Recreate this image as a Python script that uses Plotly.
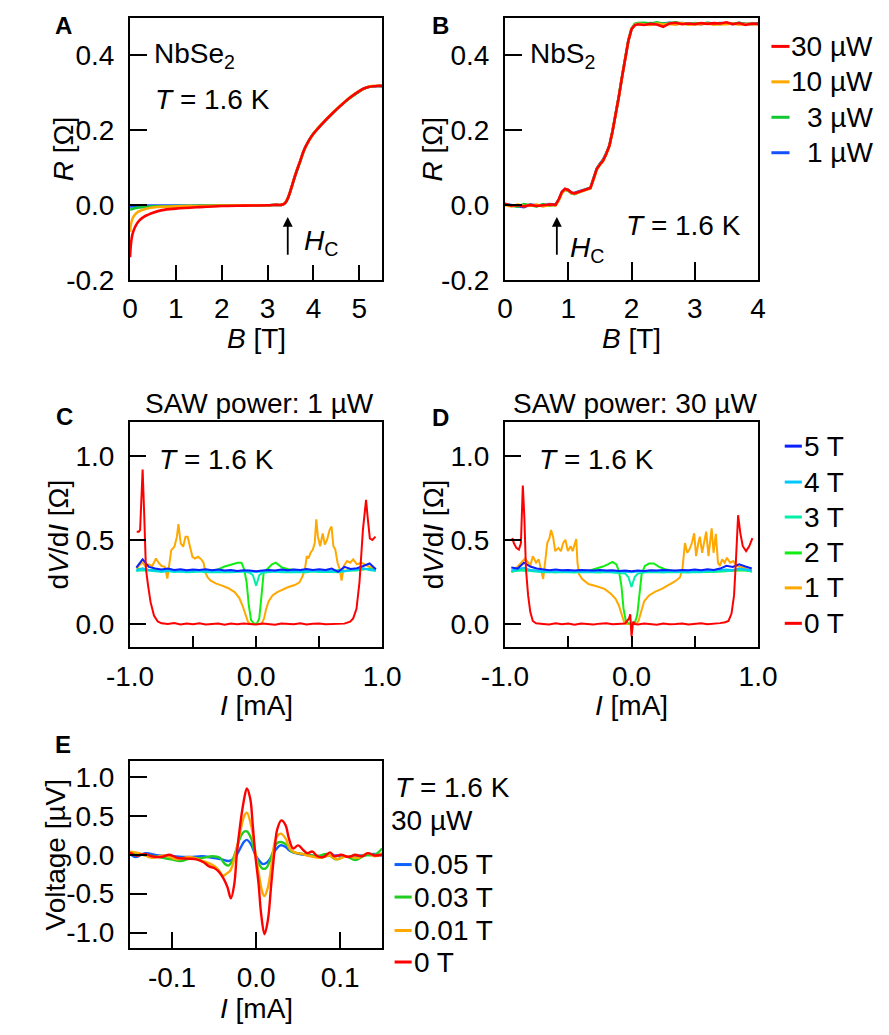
import plotly.graph_objects as go

W, H = 889, 1035
FONT = "Liberation Sans, Arial, Helvetica, sans-serif"
FS = 28

RED = "#FF0000"
ORANGE = "#FFA800"
GREEN_P = "#11C832"
BLUE_P = "#1450FF"
C5T = "#0A20FF"
C4T = "#00C8FF"
C3T = "#00F0A8"
C2T = "#11EE11"
E_BLUE = "#1060FF"
E_GREEN = "#22CC22"

# ---------------- Panel A: NbSe2, R vs B ----------------
A_labels = ["30 µW", "10 µW", "3 µW", "1 µW"]
A_B = [0, 0.02, 0.05, 0.1, 0.15, 0.2, 0.3, 0.4, 0.5, 0.7, 1.0, 1.5, 2.0, 2.5, 3.0, 3.2, 3.3, 3.35, 3.4,
       3.45, 3.5, 3.55, 3.6, 3.7, 3.8, 3.9, 4.0, 4.2, 4.4, 4.6, 4.8, 5.0, 5.1, 5.2, 5.3, 5.4, 5.5]
A_R_30uW = [-0.14, -0.105, -0.08, -0.062, -0.05, -0.042, -0.032, -0.026, -0.021, -0.014, -0.01, -0.006, -0.003,
            -0.002, -0.001, 0.0, 0.0, 0.002, 0.008, 0.02, 0.038, 0.058, 0.078, 0.113, 0.148, 0.172, 0.19, 0.218,
            0.243, 0.266, 0.287, 0.304, 0.311, 0.315, 0.317, 0.318, 0.318]
A_R_10uW = [-0.072, -0.052, -0.038, -0.027, -0.021, -0.017, -0.012, -0.009, -0.007, -0.005, -0.004, -0.003, -0.002,
            -0.001, -0.001, 0.0, 0.0, 0.002, 0.009, 0.021, 0.039, 0.059, 0.079, 0.114, 0.147, 0.171, 0.19, 0.219,
            0.244, 0.267, 0.288, 0.305, 0.311, 0.316, 0.318, 0.319, 0.318]
A_R_3uW = [-0.013, -0.012, -0.011, -0.009, -0.008, -0.007, -0.006, -0.005, -0.004, -0.004, -0.003, -0.002, -0.002,
           -0.001, -0.001, 0.0, 0.0, 0.002, 0.008, 0.02, 0.037, 0.057, 0.077, 0.112, 0.147, 0.172, 0.191, 0.218,
           0.243, 0.266, 0.286, 0.303, 0.31, 0.315, 0.317, 0.318, 0.317]
A_R_1uW = [-0.004, -0.004, -0.004, -0.003, -0.003, -0.003, -0.003, -0.002, -0.002, -0.002, -0.002, -0.002, -0.001,
           -0.001, -0.001, 0.0, 0.0, 0.002, 0.008, 0.02, 0.038, 0.058, 0.078, 0.113, 0.148, 0.172, 0.19, 0.218,
           0.243, 0.266, 0.287, 0.304, 0.311, 0.315, 0.317, 0.318, 0.318]

# ---------------- Panel B: NbS2, R vs B ----------------
B_B = [0.0, 0.1, 0.2, 0.3, 0.4, 0.5, 0.6, 0.7, 0.8,
       0.85, 0.9, 0.95, 1.0, 1.05, 1.1, 1.15, 1.2, 1.25, 1.3, 1.35, 1.4, 1.45, 1.5, 1.55, 1.6, 1.65, 1.7, 1.75,
       1.8, 1.85, 1.9, 1.95, 2.0, 2.05, 2.1,
       2.2, 2.3, 2.4, 2.5, 2.6, 2.7, 2.8, 2.9, 3.0, 3.1, 3.2, 3.3, 3.4, 3.5, 3.6, 3.7, 3.8, 3.9, 4.0]
B_R_30uW = [0.003, -0.002, -0.001, -0.004, 0.0, -0.003, -0.001, 0.001, 0.0,
            0.015, 0.035, 0.043, 0.04, 0.033, 0.031, 0.034, 0.038, 0.041, 0.042, 0.045, 0.07, 0.096, 0.108, 0.118,
            0.136, 0.158, 0.197, 0.241, 0.29, 0.342, 0.395, 0.439, 0.47, 0.48, 0.483,
            0.481, 0.484, 0.482, 0.476, 0.485, 0.487, 0.483, 0.485, 0.483, 0.486, 0.484, 0.486, 0.485, 0.488, 0.483,
            0.486, 0.481, 0.485, 0.484]
B_R_10uW = [0.0, -0.004, 0.001, -0.003, -0.002, 0.001, -0.004, 0.0, -0.001,
            0.012, 0.032, 0.041, 0.039, 0.032, 0.03, 0.033, 0.037, 0.04, 0.041, 0.044, 0.068, 0.094, 0.107, 0.117,
            0.135, 0.157, 0.196, 0.24, 0.289, 0.341, 0.394, 0.438, 0.47, 0.481, 0.484,
            0.483, 0.481, 0.485, 0.482, 0.484, 0.482, 0.486, 0.482, 0.484, 0.483, 0.485, 0.482, 0.484, 0.483, 0.485,
            0.482, 0.484, 0.483, 0.482]
B_R_3uW = [0.001, -0.003, -0.005, 0.002, -0.002, -0.004, 0.002, -0.002, 0.0,
           0.013, 0.033, 0.04, 0.038, 0.031, 0.029, 0.033, 0.036, 0.04, 0.043, 0.046, 0.069, 0.096, 0.109, 0.119,
           0.137, 0.159, 0.198, 0.242, 0.291, 0.343, 0.396, 0.44, 0.471, 0.484, 0.486,
           0.487, 0.485, 0.488, 0.484, 0.486, 0.488, 0.485, 0.483, 0.486, 0.484, 0.487, 0.485, 0.483, 0.486, 0.484,
           0.487, 0.483, 0.485, 0.484]
B_R_1uW = [0.002, -0.001, -0.003, -0.006, 0.001, -0.001, -0.003, 0.002, 0.001,
           0.014, 0.034, 0.042, 0.04, 0.032, 0.032, 0.035, 0.038, 0.041, 0.042, 0.045, 0.071, 0.097, 0.11, 0.121,
           0.138, 0.158, 0.197, 0.241, 0.29, 0.342, 0.395, 0.439, 0.47, 0.482, 0.485,
           0.484, 0.486, 0.483, 0.485, 0.487, 0.484, 0.486, 0.484, 0.485, 0.483, 0.486, 0.484, 0.486, 0.485, 0.484,
           0.486, 0.485, 0.483, 0.485]

# ---------------- Panels C / D: dV/dI vs I ----------------
CD_labels = ["5 T", "4 T", "3 T", "2 T", "1 T", "0 T"]
GRID_I = [-0.95, -0.90, -0.85, -0.80, -0.75, -0.70, -0.65, -0.60, -0.55, -0.50, -0.45, -0.40, -0.35, -0.30,
          -0.25, -0.20, -0.15, -0.10, -0.05, 0.00, 0.05, 0.10, 0.15, 0.20, 0.25, 0.30, 0.35, 0.40, 0.45, 0.50,
          0.55, 0.60, 0.65, 0.70, 0.75, 0.80, 0.85, 0.90, 0.95]
GRID_I_3T = [-0.95, -0.90, -0.85, -0.80, -0.75, -0.70, -0.65, -0.60, -0.55, -0.50, -0.45, -0.40, -0.35, -0.30,
             -0.25, -0.20, -0.15, -0.10, -0.05, -0.025, 0.0, 0.025, 0.05, 0.10, 0.15, 0.20, 0.25, 0.30, 0.35,
             0.40, 0.45, 0.50, 0.55, 0.60, 0.65, 0.70, 0.75, 0.80, 0.85, 0.90, 0.95]

# C: SAW power 1 uW
C_I_0T = [-0.947, -0.93, -0.92, -0.912, -0.90, -0.887, -0.874, -0.857, -0.837, -0.81, -0.78, -0.75, -0.70, -0.65,
          -0.60, -0.55, -0.50, -0.45, -0.40, -0.35, -0.30, -0.25, -0.20, -0.15, -0.10, -0.05, 0.0, 0.05, 0.10,
          0.15, 0.20, 0.25, 0.30, 0.35, 0.40, 0.45, 0.50, 0.55, 0.60, 0.65, 0.70, 0.746, 0.77, 0.796, 0.82,
          0.847, 0.86, 0.872, 0.884, 0.902, 0.922, 0.947]
C_R_0T = [0.55, 0.55, 0.56, 0.70, 0.92, 0.64, 0.33, 0.23, 0.13, 0.05, 0.015, 0.004, 0.0, 0.005, -0.003, 0.002,
          -0.002, 0.004, -0.003, 0.0, 0.003, -0.004, 0.002, -0.002, 0.003, 0.0, -0.003, 0.002, 0.0, -0.004, 0.003,
          0.0, -0.002, 0.004, -0.003, 0.001, 0.003, -0.002, 0.0, 0.004, 0.002, 0.014, 0.033, 0.09, 0.25, 0.56,
          0.68, 0.74, 0.64, 0.51, 0.50, 0.52]
C_I_1T = [-0.947, -0.92, -0.90, -0.874, -0.85, -0.824, -0.794, -0.774, -0.749, -0.724, -0.704, -0.688, -0.673,
          -0.648, -0.628, -0.616, -0.598, -0.578, -0.56, -0.543, -0.523, -0.505, -0.485, -0.46, -0.435, -0.417,
          -0.402, -0.384, -0.36, -0.32, -0.27, -0.22, -0.17, -0.133, -0.108, -0.083, -0.065, -0.045, 0.0, 0.043,
          0.063, 0.08, 0.10, 0.13, 0.168, 0.206, 0.256, 0.307, 0.344, 0.37, 0.387, 0.402, 0.415, 0.432, 0.45,
          0.465, 0.477, 0.49, 0.508, 0.528, 0.545, 0.563, 0.583, 0.598, 0.613, 0.628, 0.646, 0.663, 0.678, 0.696,
          0.721, 0.746, 0.77, 0.80, 0.834, 0.884, 0.947]
C_R_1T = [0.33, 0.355, 0.365, 0.34, 0.355, 0.345, 0.39, 0.365, 0.345, 0.34, 0.27, 0.365, 0.44, 0.46, 0.52, 0.595,
          0.48, 0.46, 0.52, 0.52, 0.46, 0.40, 0.39, 0.40, 0.385, 0.365, 0.305, 0.277, 0.258, 0.242, 0.228, 0.213,
          0.19, 0.154, 0.11, 0.053, 0.014, 0.0, 0.0, 0.0, 0.033, 0.09, 0.135, 0.17, 0.19, 0.205, 0.22, 0.232,
          0.248, 0.287, 0.326, 0.404, 0.39, 0.424, 0.443, 0.482, 0.623, 0.52, 0.463, 0.54, 0.473, 0.502, 0.56,
          0.58, 0.463, 0.443, 0.365, 0.326, 0.258, 0.346, 0.375, 0.365, 0.385, 0.355, 0.365, 0.346, 0.326]
C_I_2T = [-0.947, -0.90, -0.85, -0.80, -0.75, -0.70, -0.65, -0.60, -0.55, -0.50, -0.45, -0.40, -0.35, -0.30,
          -0.25, -0.196, -0.146, -0.116, -0.095, -0.075, -0.058, -0.04, -0.02, 0.005, 0.025, 0.043, 0.06, 0.093,
          0.126, 0.156, 0.206, 0.256, 0.30, 0.35, 0.40, 0.45, 0.50, 0.55, 0.60, 0.65, 0.70, 0.75, 0.80, 0.85,
          0.90, 0.947]
C_R_2T = [0.325, 0.33, 0.32, 0.325, 0.318, 0.322, 0.316, 0.32, 0.315, 0.318, 0.316, 0.32, 0.318, 0.325, 0.342,
          0.355, 0.365, 0.365, 0.326, 0.248, 0.11, 0.023, 0.004, 0.0, 0.033, 0.17, 0.307, 0.33, 0.355, 0.365,
          0.336, 0.326, 0.322, 0.318, 0.315, 0.32, 0.316, 0.318, 0.314, 0.32, 0.316, 0.322, 0.32, 0.325, 0.33,
          0.322]
C_R_3T = [0.315, 0.32, 0.318, 0.312, 0.31, 0.315, 0.31, 0.312, 0.308, 0.31, 0.312, 0.308, 0.31, 0.312, 0.31,
          0.308, 0.31, 0.312, 0.305, 0.29, 0.228, 0.29, 0.305, 0.31, 0.312, 0.308, 0.31, 0.312, 0.31, 0.308,
          0.312, 0.31, 0.312, 0.31, 0.308, 0.315, 0.318, 0.32, 0.33, 0.322, 0.315]
C_R_4T = [0.32, 0.33, 0.322, 0.318, 0.315, 0.318, 0.314, 0.316, 0.313, 0.315, 0.318, 0.314, 0.316, 0.313, 0.315,
          0.312, 0.314, 0.316, 0.312, 0.31, 0.313, 0.315, 0.312, 0.316, 0.314, 0.313, 0.316, 0.314, 0.318, 0.315,
          0.316, 0.314, 0.318, 0.316, 0.32, 0.322, 0.33, 0.325, 0.32]
C_R_5T = [0.336, 0.385, 0.34, 0.33, 0.325, 0.33, 0.322, 0.326, 0.32, 0.325, 0.322, 0.326, 0.32, 0.324, 0.318,
          0.322, 0.316, 0.32, 0.318, 0.314, 0.318, 0.322, 0.318, 0.324, 0.32, 0.325, 0.322, 0.328, 0.322, 0.326,
          0.322, 0.33, 0.31, 0.34, 0.328, 0.332, 0.345, 0.36, 0.326]

# D: SAW power 30 uW
D_I_0T = [-0.942, -0.93, -0.91, -0.89, -0.874, -0.859, -0.847, -0.834, -0.817, -0.80, -0.78, -0.754, -0.70,
          -0.65, -0.60, -0.55, -0.50, -0.45, -0.40, -0.35, -0.30, -0.25, -0.20, -0.15, -0.10, -0.05, -0.02, -0.01,
          0.0, 0.013, 0.025, 0.05, 0.10, 0.15, 0.20, 0.25, 0.30, 0.35, 0.40, 0.45, 0.50, 0.55, 0.60, 0.65, 0.70,
          0.74, 0.766, 0.79, 0.81, 0.824, 0.842, 0.86, 0.879, 0.905, 0.93, 0.955]
D_R_0T = [0.512, 0.482, 0.453, 0.443, 0.48, 0.824, 0.64, 0.326, 0.17, 0.072, 0.018, 0.004, 0.0, -0.003, 0.004,
          -0.002, 0.002, -0.004, 0.003, 0.0, -0.003, 0.002, 0.004, -0.002, 0.0, 0.003, 0.033, 0.057, -0.074, 0.014,
          0.0, -0.003, 0.002, 0.0, -0.004, 0.003, -0.002, 0.0, 0.003, -0.003, 0.001, 0.004, -0.002, 0.0, 0.005,
          0.01, 0.018, 0.062, 0.17, 0.365, 0.648, 0.54, 0.463, 0.434, 0.463, 0.512]
D_I_1T = [-0.942, -0.905, -0.867, -0.842, -0.817, -0.80, -0.78, -0.754, -0.734, -0.716, -0.698, -0.683, -0.666,
          -0.648, -0.636, -0.62, -0.603, -0.578, -0.558, -0.54, -0.523, -0.503, -0.482, -0.465, -0.447, -0.437,
          -0.427, -0.415, -0.39, -0.34, -0.276, -0.214, -0.163, -0.126, -0.10, -0.075, -0.058, -0.038, 0.0, 0.038,
          0.055, 0.075, 0.10, 0.138, 0.188, 0.239, 0.289, 0.339, 0.382, 0.402, 0.422, 0.44, 0.457, 0.477, 0.495,
          0.51, 0.528, 0.54, 0.558, 0.573, 0.59, 0.608, 0.62, 0.633, 0.648, 0.666, 0.683, 0.698, 0.716, 0.736,
          0.754, 0.779, 0.804, 0.83, 0.879, 0.95]
D_R_1T = [0.307, 0.336, 0.37, 0.39, 0.365, 0.346, 0.404, 0.365, 0.385, 0.326, 0.268, 0.365, 0.482, 0.512, 0.56,
          0.52, 0.434, 0.453, 0.434, 0.482, 0.502, 0.434, 0.463, 0.434, 0.482, 0.506, 0.365, 0.297, 0.268, 0.238,
          0.225, 0.209, 0.18, 0.15, 0.11, 0.053, 0.01, 0.0, 0.0, 0.0, 0.018, 0.072, 0.135, 0.17, 0.193, 0.209,
          0.228, 0.252, 0.277, 0.326, 0.482, 0.424, 0.443, 0.482, 0.54, 0.404, 0.482, 0.52, 0.424, 0.482, 0.55,
          0.404, 0.482, 0.57, 0.424, 0.537, 0.365, 0.346, 0.385, 0.365, 0.395, 0.365, 0.375, 0.346, 0.336, 0.316]
D_I_2T = [-0.95, -0.90, -0.85, -0.80, -0.75, -0.70, -0.65, -0.60, -0.55, -0.50, -0.45, -0.40, -0.35, -0.276,
          -0.226, -0.188, -0.15, -0.12, -0.10, -0.08, -0.063, -0.045, -0.025, 0.0, 0.025, 0.045, 0.063, 0.08,
          0.105, 0.138, 0.176, 0.214, 0.264, 0.327, 0.40, 0.45, 0.50, 0.55, 0.60, 0.65, 0.70, 0.75, 0.80, 0.85,
          0.90, 0.95]
D_R_2T = [0.31, 0.325, 0.318, 0.322, 0.315, 0.312, 0.316, 0.31, 0.314, 0.312, 0.316, 0.31, 0.314, 0.33, 0.342,
          0.355, 0.37, 0.355, 0.316, 0.228, 0.09, 0.018, 0.004, 0.002, 0.004, 0.053, 0.19, 0.297, 0.346, 0.36,
          0.36, 0.342, 0.326, 0.316, 0.314, 0.31, 0.316, 0.312, 0.31, 0.314, 0.312, 0.316, 0.318, 0.322, 0.32,
          0.312]
D_R_3T = [0.312, 0.318, 0.32, 0.315, 0.31, 0.308, 0.31, 0.306, 0.31, 0.308, 0.306, 0.31, 0.308, 0.31, 0.306,
          0.31, 0.308, 0.306, 0.3, 0.28, 0.22, 0.28, 0.3, 0.306, 0.31, 0.308, 0.306, 0.31, 0.308, 0.31, 0.306,
          0.31, 0.308, 0.312, 0.31, 0.316, 0.314, 0.318, 0.325, 0.32, 0.312]
D_R_4T = [0.318, 0.325, 0.335, 0.322, 0.316, 0.314, 0.316, 0.312, 0.315, 0.313, 0.316, 0.312, 0.314, 0.312,
          0.315, 0.312, 0.314, 0.312, 0.31, 0.308, 0.312, 0.314, 0.312, 0.315, 0.313, 0.316, 0.312, 0.315, 0.313,
          0.316, 0.314, 0.316, 0.318, 0.32, 0.325, 0.322, 0.33, 0.325, 0.318]
D_R_5T = [0.336, 0.33, 0.365, 0.342, 0.33, 0.326, 0.32, 0.324, 0.32, 0.322, 0.318, 0.322, 0.32, 0.318, 0.322,
          0.318, 0.32, 0.316, 0.318, 0.314, 0.318, 0.316, 0.32, 0.318, 0.322, 0.32, 0.318, 0.322, 0.32, 0.324,
          0.32, 0.326, 0.322, 0.33, 0.346, 0.34, 0.355, 0.342, 0.33]

# ---------------- Panel E: Voltage vs I ----------------
E_labels = ["0.05 T", "0.03 T", "0.01 T", "0 T"]
E_I_0T = [-0.150, -0.143, -0.132, -0.124, -0.113, -0.103, -0.094, -0.082, -0.071, -0.062, -0.056, -0.050,
          -0.045, -0.039, -0.034, -0.030, -0.026, -0.023, -0.019, -0.015, -0.011, -0.007, -0.004, -0.001, 0.003,
          0.006, 0.010, 0.014, 0.018, 0.022, 0.025, 0.030, 0.035, 0.039, 0.044, 0.050, 0.056, 0.061, 0.067,
          0.073, 0.080, 0.088, 0.093, 0.101, 0.110, 0.118, 0.126, 0.133, 0.141, 0.150]
E_V_0T = [0.03, -0.01, 0.01, -0.02, -0.03, 0.0, -0.04, -0.05, -0.06, -0.10, -0.15, -0.17, -0.21, -0.30, -0.42,
          -0.56, -0.38, 0.0, 0.38, 0.67, 0.85, 0.72, 0.38, 0.0, -0.38, -0.76, -1.02, -0.84, -0.38, 0.06, 0.32,
          0.44, 0.38, 0.21, 0.08, 0.12, 0.06, 0.02, 0.04, -0.02, -0.03, 0.03, -0.02, 0.0, -0.03, 0.0, -0.02,
          0.02, -0.01, 0.0]
E_I_001T = [-0.150, -0.139, -0.124, -0.109, -0.094, -0.079, -0.064, -0.052, -0.045, -0.039, -0.035, -0.031,
            -0.028, -0.023, -0.018, -0.014, -0.011, -0.006, -0.001, 0.004, 0.008, 0.010, 0.014, 0.019, 0.023,
            0.029, 0.035, 0.040, 0.046, 0.054, 0.065, 0.076, 0.088, 0.095, 0.107, 0.122, 0.133, 0.141, 0.150]
E_V_001T = [0.04, 0.02, -0.04, -0.01, -0.06, -0.03, -0.08, -0.13, -0.19, -0.27, -0.24, -0.21, -0.13, 0.08, 0.34,
            0.50, 0.54, 0.38, 0.04, -0.30, -0.50, -0.53, -0.42, -0.08, 0.19, 0.27, 0.21, 0.08, 0.03, 0.01, -0.02,
            -0.04, -0.01, -0.06, -0.02, -0.04, 0.02, -0.02, 0.02]
E_I_003T = [-0.150, -0.135, -0.116, -0.101, -0.090, -0.079, -0.064, -0.052, -0.043, -0.037, -0.033, -0.029,
            -0.025, -0.020, -0.015, -0.011, -0.006, -0.001, 0.004, 0.008, 0.012, 0.016, 0.020, 0.025, 0.031,
            0.037, 0.042, 0.050, 0.061, 0.073, 0.084, 0.095, 0.107, 0.118, 0.129, 0.141, 0.150]
E_V_003T = [0.02, 0.0, -0.03, -0.06, -0.08, -0.05, -0.04, -0.02, -0.04, -0.12, -0.14, -0.09, 0.02, 0.19, 0.29,
            0.30, 0.21, 0.0, -0.13, -0.18, -0.17, -0.09, 0.04, 0.15, 0.16, 0.12, 0.04, 0.02, 0.0, -0.02, 0.01,
            -0.06, -0.02, -0.07, -0.01, 0.0, 0.08]
E_I_005T = [-0.150, -0.143, -0.132, -0.116, -0.098, -0.079, -0.064, -0.052, -0.041, -0.033, -0.028, -0.023,
            -0.018, -0.014, -0.011, -0.006, -0.001, 0.004, 0.008, 0.013, 0.018, 0.023, 0.029, 0.035, 0.040, 0.050,
            0.065, 0.080, 0.095, 0.110, 0.126, 0.141, 0.150]
E_V_005T = [0.01, -0.03, 0.02, -0.01, -0.02, -0.03, -0.02, -0.04, -0.06, -0.08, -0.06, 0.0, 0.10, 0.17, 0.19,
            0.13, 0.0, -0.08, -0.12, -0.10, -0.03, 0.06, 0.12, 0.10, 0.05, 0.01, -0.01, -0.02, -0.01, -0.02,
            -0.01, 0.01, -0.01]

# ---------------- figure ----------------
fig = go.Figure()


def line(xa, ya, x, y, color, shape="linear", width=2.2):
    fig.add_trace(go.Scatter(x=x, y=y, mode="lines", xaxis=xa, yaxis=ya, showlegend=False,
                             hoverinfo="skip", line=dict(color=color, width=width, shape=shape)))


# A
line("x", "y", A_B, A_R_1uW, BLUE_P, "spline", 2.6)
line("x", "y", A_B, A_R_3uW, GREEN_P, "spline", 2.6)
line("x", "y", A_B, A_R_10uW, ORANGE, "spline", 2.6)
line("x", "y", A_B, A_R_30uW, RED, "spline", 2.6)
# B
line("x2", "y2", B_B, B_R_1uW, BLUE_P, width=2.6)
line("x2", "y2", B_B, B_R_3uW, GREEN_P, width=2.6)
line("x2", "y2", B_B, B_R_10uW, ORANGE, width=2.6)
line("x2", "y2", B_B, B_R_30uW, RED, width=2.6)
# C
line("x3", "y3", C_I_1T, C_R_1T, ORANGE, width=2.0)
line("x3", "y3", C_I_2T, C_R_2T, C2T, width=2.0)
line("x3", "y3", GRID_I_3T, C_R_3T, C3T, width=2.0)
line("x3", "y3", GRID_I, C_R_4T, C4T, width=2.0)
line("x3", "y3", GRID_I, C_R_5T, C5T, width=2.0)
line("x3", "y3", C_I_0T, C_R_0T, RED, width=2.0)
# D
line("x4", "y4", D_I_1T, D_R_1T, ORANGE, width=2.0)
line("x4", "y4", D_I_2T, D_R_2T, C2T, width=2.0)
line("x4", "y4", GRID_I_3T, D_R_3T, C3T, width=2.0)
line("x4", "y4", GRID_I, D_R_4T, C4T, width=2.0)
line("x4", "y4", GRID_I, D_R_5T, C5T, width=2.0)
line("x4", "y4", D_I_0T, D_R_0T, RED, width=2.0)
# E
line("x5", "y5", E_I_005T, E_V_005T, E_BLUE, "spline", 2.4)
line("x5", "y5", E_I_003T, E_V_003T, E_GREEN, "spline", 2.4)
line("x5", "y5", E_I_001T, E_V_001T, ORANGE, "spline", 2.4)
line("x5", "y5", E_I_0T, E_V_0T, RED, "spline", 2.4)


def axis(left, right, rng, tickvals, ticktext, ticklen, anchor, is_x, minor_vals=None):
    if is_x:
        dom = [left / W, right / W]
    else:
        dom = [1 - right / H, 1 - left / H]
    d = dict(domain=dom, range=rng, tickmode="array", tickvals=tickvals, ticktext=ticktext, ticks="inside",
             ticklen=ticklen, tickwidth=2, tickcolor="black", showline=True, linewidth=2,
             linecolor="black", mirror=True, showgrid=False, zeroline=False, anchor=anchor,
             tickfont=dict(family=FONT, size=FS, color="black"),
             ticklabelstandoff=(3 if is_x else 8), fixedrange=True)
    if minor_vals is not None:
        d["minor"] = dict(tickmode="array", tickvals=minor_vals, ticks="inside", ticklen=ticklen,
                          tickwidth=2, tickcolor="black", showgrid=False)
    return d


R_ticks = [-0.2, 0.0, 0.2, 0.4]
R_text = ["-0.2", "0.0", "0.2", "0.4"]
CD_xt = [-1.0, 0.0, 1.0]
CD_xtext = ["-1.0", "0.0", "1.0"]
CD_minor = [-0.5, 0.5]
CD_yt = [0.0, 0.5, 1.0]
CD_ytext = ["0.0", "0.5", "1.0"]

layout_axes = dict(
    xaxis=axis(103, 368, [0, 5.5], [0, 1, 2, 3, 4, 5], ["0", "1", "2", "3", "4", "5"], 15, "y", True),
    yaxis=axis(10, 276, [-0.2, 0.5], R_ticks, R_text, 17, "x", False),
    xaxis2=axis(497, 763, [0, 4], [0, 1, 2, 3, 4], ["0", "1", "2", "3", "4"], 18, "y2", True),
    yaxis2=axis(10, 276, [-0.2, 0.5], R_ticks, R_text, 17, "x2", False),
    xaxis3=axis(103, 368, [-1, 1], CD_xt, CD_xtext, 11, "y3", True, CD_minor),
    yaxis3=axis(420, 649, [-0.137, 1.206], CD_yt, CD_ytext, 16, "x3", False),
    xaxis4=axis(497, 763, [-1, 1], CD_xt, CD_xtext, 11, "y4", True, CD_minor),
    yaxis4=axis(420, 649, [-0.137, 1.206], CD_yt, CD_ytext, 16, "x4", False),
    xaxis5=axis(103, 368, [-0.15, 0.15], [-0.1, 0.0, 0.1], ["-0.1", "0.0", "0.1"], 16, "y5", True),
    yaxis5=axis(765, 955, [-1.2, 1.2], [-1.0, -0.5, 0.0, 0.5, 1.0], ["-1.0", "-0.5", "0.0", "0.5", "1.0"],
                17, "x5", False),
)

anns = []
shapes = []


def pann(text, xpx, ypx, xanchor="center", size=FS, angle=0):
    anns.append(dict(text=text, x=xpx / W, y=1 - ypx / H, xref="paper", yref="paper", xanchor=xanchor,
                     yanchor="middle", showarrow=False, textangle=angle,
                     font=dict(family=FONT, size=size, color="black")))


def dann(text, x, y, xa, ya, xanchor="left"):
    anns.append(dict(text=text, x=x, y=y, xref=xa, yref=ya, xanchor=xanchor, yanchor="middle",
                     showarrow=False, font=dict(family=FONT, size=FS, color="black")))


def arrow(x, y_tip, y_tail, xa, ya):
    anns.append(dict(text="", x=x, y=y_tip, ax=x, ay=y_tail, xref=xa, yref=ya, axref=xa, ayref=ya,
                     showarrow=True, arrowhead=2, arrowsize=1.1, arrowwidth=1.8, arrowcolor="black"))


# panel letters
for letter, xp, yp in [("A", 33, 18), ("B", 429, 18), ("C", 34, 415), ("D", 429, 416), ("E", 33, 748)]:
    pann("<b>%s</b>" % letter, xp, yp, size=24)

# axis titles
pann("<i>B</i> [T]", 235.5, 336)
pann("<i>B</i> [T]", 630, 336)
pann("<i>R</i> [Ω]", 33, 143, angle=-90)
pann("<i>R</i> [Ω]", 421, 143, angle=-90)
pann("d<i>V</i>/d<i>I</i> [Ω]", 28, 535, angle=-90)
pann("d<i>V</i>/d<i>I</i> [Ω]", 422, 535, angle=-90)
pann("<i>I</i> [mA]", 235.5, 708)
pann("<i>I</i> [mA]", 630, 708)
pann("Voltage [µV]", 25, 860, angle=-90)
pann("<i>I</i> [mA]", 235.5, 1016)

# titles C / D
pann("SAW power: 1 µW", 239, 402)
pann("SAW power: 30 µW", 634, 402)

# in-plot texts
dann("NbSe<sub>2</sub>", 0.47, 0.4, "x", "y")
dann("<i>T</i> = 1.6 K", 0.5, 0.282, "x", "y")
dann("<i>H</i><sub>C</sub>", 3.76, -0.1, "x", "y")
arrow(3.44, -0.032, -0.137, "x", "y")
dann("NbS<sub>2</sub>", 0.37, 0.4, "x2", "y2")
dann("<i>T</i> = 1.6 K", 3.76, -0.054, "x2", "y2", xanchor="right")
dann("<i>H</i><sub>C</sub>", 1.0, -0.118, "x2", "y2")
arrow(0.82, -0.032, -0.137, "x2", "y2")
dann("<i>T</i> = 1.6 K", -0.785, 0.98, "x3", "y3")
dann("<i>T</i> = 1.6 K", -0.745, 0.98, "x4", "y4")
pann("<i>T</i> = 1.6 K", 379, 792, xanchor="left")
pann("30 µW", 375, 825, xanchor="left")


def swatch(x0, x1, ypx, color):
    shapes.append(dict(type="line", xref="paper", yref="paper", x0=x0 / W, x1=x1 / W, y0=1 - ypx / H,
                       y1=1 - ypx / H, line=dict(color=color, width=3)))


# legend B (right aligned text)
for lab, col, yp in zip(A_labels, [RED, ORANGE, GREEN_P, BLUE_P], [39, 75, 111, 147]):
    swatch(777, 796, yp, col)
    pann(lab, 886, yp, xanchor="right")

# legend C/D
for lab, col, yp in zip(CD_labels, [C5T, C4T, C3T, C2T, ORANGE, RED], [445, 481.5, 517, 553.5, 589, 625]):
    swatch(791, 809, yp, col)
    pann(lab, 809, yp, xanchor="left")

# legend E
for lab, col, yp in zip(E_labels, [E_BLUE, E_GREEN, ORANGE, RED], [870, 903, 937, 969]):
    swatch(381, 399, yp, col)
    pann(lab, 399, yp, xanchor="left")

fig.update_layout(
    width=W, height=H, autosize=False,
    margin=dict(l=0, r=0, t=0, b=0),
    paper_bgcolor="white", plot_bgcolor="white",
    font=dict(family=FONT, size=FS, color="black"),
    annotations=anns, shapes=shapes,
    **layout_axes,
)

fig.write_html("out.html")
